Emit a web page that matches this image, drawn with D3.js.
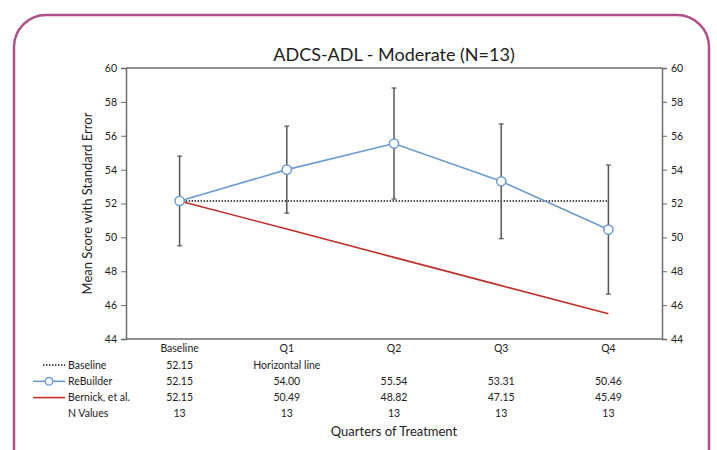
<!DOCTYPE html>
<html>
<head>
<meta charset="utf-8">
<script src="https://cdn.jsdelivr.net/npm/d3@7"></script>
<style>
  body { margin: 0; background: #fff; }
  svg { display: block; }
  text { font-family: "Lato", "Open Sans", sans-serif; fill: #222; }
</style>
</head>
<body>
<div id="chart"></div>
<script>
// Data
const quarters = ["Baseline", "Q1", "Q2", "Q3", "Q4"];
const rebuilder = [52.15, 54.00, 55.54, 53.31, 50.46];
const bernick = [52.15, 50.49, 48.82, 47.15, 45.49];
const baselineValue = 52.15;
const stdErr = [2.65, 2.57, 3.28, 3.39, 3.81];
const nValues = [13, 13, 13, 13, 13];
const yTicks = [44, 46, 48, 50, 52, 54, 56, 58, 60];

// Table rows under the chart
const tableRows = [
  { label: "Baseline", cells: ["52.15", "Horizontal line", "", "", ""] },
  { label: "ReBuilder", cells: rebuilder.map(d => d.toFixed(2)) },
  { label: "Bernick, et al.", cells: bernick.map(d => d.toFixed(2)) },
  { label: "N Values", cells: nValues.map(String) }
];

const width = 717, height = 450;
const margin = { top: 68, right: 55, bottom: 111, left: 126 };

const svg = d3.select("#chart").append("svg")
  .attr("width", width)
  .attr("height", height);

// Rounded frame
svg.append("rect")
  .attr("x", 14).attr("y", 15)
  .attr("width", 695).attr("height", 470)
  .attr("rx", 32).attr("ry", 32)
  .attr("fill", "none")
  .attr("stroke", "#b05089")
  .attr("stroke-width", 2.5);

const x = d3.scalePoint()
  .domain(quarters)
  .range([margin.left, width - margin.right])
  .padding(0.5);

const y = d3.scaleLinear()
  .domain([44, 60])
  .range([height - margin.bottom, margin.top]);

const axisColor = "#6b6b6b";

// Plot frame (top and bottom lines)
svg.append("line")
  .attr("x1", margin.left).attr("x2", width - margin.right)
  .attr("y1", y(60)).attr("y2", y(60))
  .attr("stroke", axisColor).attr("stroke-width", 1.5);
svg.append("line")
  .attr("x1", margin.left).attr("x2", width - margin.right)
  .attr("y1", y(44)).attr("y2", y(44))
  .attr("stroke", axisColor).attr("stroke-width", 1.5);

// Left axis
const yLeft = svg.append("g")
  .attr("transform", `translate(${margin.left},0)`)
  .call(d3.axisLeft(y).tickValues(yTicks).tickSize(5).tickPadding(4));

// Right axis
const yRight = svg.append("g")
  .attr("transform", `translate(${width - margin.right},0)`)
  .call(d3.axisRight(y).tickValues(yTicks).tickSize(5).tickPadding(4));

[yLeft, yRight].forEach(g => {
  g.select(".domain").attr("stroke", axisColor).attr("stroke-width", 1.5);
  g.selectAll(".tick line").attr("stroke", axisColor);
  g.selectAll(".tick text")
    .style("font-family", "'Lato', sans-serif")
    .style("font-size", "10.5px")
    .attr("fill", "#333");
});

// Y axis title
svg.append("text")
  .attr("transform", `translate(92,${(y(44) + y(60)) / 2}) rotate(-90)`)
  .attr("text-anchor", "middle")
  .style("font-size", "13px")
  .text("Mean Score with Standard Error");

// Title
svg.append("text")
  .attr("x", (margin.left + width - margin.right) / 2)
  .attr("y", 61)
  .attr("text-anchor", "middle")
  .style("font-size", "18px")
  .text("ADCS-ADL - Moderate (N=13)");

// Horizontal baseline (dotted)
svg.append("line")
  .attr("x1", x(quarters[0])).attr("x2", x(quarters[quarters.length - 1]))
  .attr("y1", y(baselineValue)).attr("y2", y(baselineValue))
  .attr("stroke", "#111")
  .attr("stroke-width", 1.4)
  .attr("stroke-dasharray", "1.4,1.6");

// Error bars for ReBuilder
const errG = svg.append("g");
quarters.forEach((q, i) => {
  const cx = x(q);
  const top = y(rebuilder[i] + stdErr[i]);
  const bot = y(rebuilder[i] - stdErr[i]);
  errG.append("line")
    .attr("x1", cx).attr("x2", cx).attr("y1", top).attr("y2", bot)
    .attr("stroke", "#555").attr("stroke-width", 1.5);
  [top, bot].forEach(yy => {
    errG.append("line")
      .attr("x1", cx - 2.5).attr("x2", cx + 2.5).attr("y1", yy).attr("y2", yy)
      .attr("stroke", "#555").attr("stroke-width", 1.2);
  });
});

// Bernick line
const line = d3.line()
  .x((d, i) => x(quarters[i]))
  .y(d => y(d));

svg.append("path")
  .datum(bernick)
  .attr("fill", "none")
  .attr("stroke", "#c0302e")
  .attr("stroke-width", 1.6)
  .attr("d", line);

// ReBuilder line + markers
svg.append("path")
  .datum(rebuilder)
  .attr("fill", "none")
  .attr("stroke", "#6d9bd0")
  .attr("stroke-width", 1.6)
  .attr("d", line);

svg.selectAll(".pt")
  .data(rebuilder)
  .join("circle")
  .attr("class", "pt")
  .attr("cx", (d, i) => x(quarters[i]))
  .attr("cy", d => y(d))
  .attr("r", 4.6)
  .attr("fill", "#fff")
  .attr("stroke", "#6d9bd0")
  .attr("stroke-width", 1.5);

// Data table under the axis
const tableFont = "'Lato', sans-serif";
const headerY = 352;
const rowY0 = 368.5, rowStep = 16.3;

svg.selectAll(".cat")
  .data(quarters)
  .join("text")
  .attr("class", "cat")
  .attr("x", d => x(d))
  .attr("y", headerY)
  .attr("text-anchor", "middle")
  .style("font-family", tableFont)
  .style("font-size", "10.5px")
  .text(d => d);

tableRows.forEach((row, r) => {
  const ry = rowY0 + r * rowStep;
  svg.append("text")
    .attr("x", 68).attr("y", ry)
    .style("font-family", tableFont)
    .style("font-size", "10.5px")
    .text(row.label);
  row.cells.forEach((c, i) => {
    svg.append("text")
      .attr("x", x(quarters[i])).attr("y", ry)
      .attr("text-anchor", "middle")
      .style("font-family", tableFont)
      .style("font-size", "10.5px")
      .text(c);
  });
});

// Legend keys in table
const keyY = i => rowY0 + i * rowStep - 3.5;
svg.append("line")
  .attr("x1", 43).attr("x2", 65).attr("y1", keyY(0)).attr("y2", keyY(0))
  .attr("stroke", "#111").attr("stroke-width", 1.4)
  .attr("stroke-dasharray", "1.4,1.6");
svg.append("line")
  .attr("x1", 33).attr("x2", 65).attr("y1", keyY(1)).attr("y2", keyY(1))
  .attr("stroke", "#6d9bd0").attr("stroke-width", 1.6);
svg.append("circle")
  .attr("cx", 49).attr("cy", keyY(1)).attr("r", 3.8)
  .attr("fill", "#fff").attr("stroke", "#6d9bd0").attr("stroke-width", 1.4);
svg.append("line")
  .attr("x1", 33).attr("x2", 65).attr("y1", keyY(2)).attr("y2", keyY(2))
  .attr("stroke", "#c0302e").attr("stroke-width", 1.6);

// X axis title
svg.append("text")
  .attr("x", x("Q2"))
  .attr("y", 436)
  .attr("text-anchor", "middle")
  .style("font-size", "13px")
  .text("Quarters of Treatment");
</script>
</body>
</html>
